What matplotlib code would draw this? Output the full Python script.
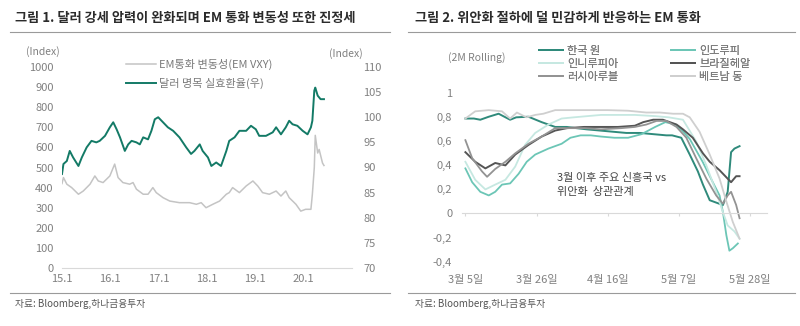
import matplotlib
matplotlib.use("Agg")
import matplotlib.pyplot as plt
from matplotlib.lines import Line2D

plt.rcParams['font.family'] = ['Noto Sans CJK KR', 'DejaVu Sans']
plt.rcParams['axes.unicode_minus'] = False

# ---- 그림 1 data (year fraction, value) ----
vxy_x = [2015.00, 2015.03, 2015.10, 2015.20, 2015.34, 2015.44, 2015.58, 2015.68, 2015.75, 2015.85,
         2015.99, 2016.09, 2016.16, 2016.26, 2016.40, 2016.47, 2016.54, 2016.68, 2016.78, 2016.88,
         2016.95, 2017.09, 2017.23, 2017.43, 2017.64, 2017.78, 2017.88, 2017.98, 2018.12, 2018.26,
         2018.40, 2018.46, 2018.53, 2018.67, 2018.81, 2018.95, 2019.05, 2019.15, 2019.29, 2019.43,
         2019.53, 2019.63, 2019.70, 2019.84, 2019.94, 2020.04, 2020.15, 2020.18, 2020.22, 2020.24,
         2020.29, 2020.32, 2020.39, 2020.42]
vxy_y = [420, 450, 417, 400, 367, 383, 417, 458, 433, 425,
         458, 517, 450, 425, 417, 425, 392, 367, 367, 400,
         375, 350, 333, 325, 325, 317, 325, 300, 317, 333,
         367, 375, 400, 375, 408, 433, 408, 375, 367, 383,
         358, 383, 350, 317, 283, 292, 292, 367, 500, 660,
         572, 590, 522, 510]

neer_x = [2015.00, 2015.03, 2015.10, 2015.16, 2015.23, 2015.34, 2015.41, 2015.51, 2015.61, 2015.71,
          2015.78, 2015.89, 2015.99, 2016.06, 2016.13, 2016.20, 2016.30, 2016.37, 2016.44, 2016.54,
          2016.61, 2016.68, 2016.78, 2016.85, 2016.92, 2016.99, 2017.09, 2017.19, 2017.30, 2017.43,
          2017.57, 2017.67, 2017.74, 2017.85, 2017.91, 2018.02, 2018.09, 2018.19, 2018.29, 2018.40,
          2018.46, 2018.57, 2018.67, 2018.81, 2018.91, 2019.01, 2019.08, 2019.22, 2019.36, 2019.43,
          2019.53, 2019.63, 2019.70, 2019.77, 2019.87, 2019.98, 2020.08, 2020.15, 2020.18, 2020.22,
          2020.24, 2020.29, 2020.35, 2020.42]
neer_y = [88.7, 90.7, 91.3, 93.3, 92.0, 90.3, 92.0, 94.0, 95.3, 95.0,
          95.3, 96.3, 98.0, 99.0, 97.6, 96.0, 93.3, 94.6, 95.3, 95.0,
          94.6, 96.0, 95.6, 97.3, 99.6, 100.0, 99.0, 98.0, 97.3, 96.0,
          94.0, 92.7, 93.3, 94.6, 93.3, 92.0, 90.3, 91.0, 90.3, 93.3,
          95.3, 96.0, 97.3, 97.3, 98.3, 97.6, 96.3, 96.3, 97.0, 98.0,
          96.6, 98.0, 99.3, 98.6, 98.3, 97.3, 96.6, 98.0, 99.3, 105.3,
          105.9, 104.3, 103.6, 103.6]

year_ticks = [2015, 2016, 2017, 2018, 2019, 2020]
year_labels = ['15.1', '16.1', '17.1', '18.1', '19.1', '20.1']

# ---- 그림 2 data (days since 3월 5일, 2M rolling correlation) ----
krw_d = [0, 2.5, 4.4, 6.9, 9.8, 13.2, 15, 18.6, 22.5, 26.5, 29.9, 32.8, 35.8, 39.7, 43.6, 47.5,
         51.5, 55.4, 59.3, 61, 63.7, 66.2, 68.6, 70.1, 72.1, 75, 76, 77.4, 78.4, 79.4, 80.9]
krw_v = [0.79, 0.79, 0.78, 0.805, 0.83, 0.78, 0.80, 0.805, 0.76, 0.72, 0.72, 0.71, 0.70, 0.69, 0.68, 0.67,
         0.67, 0.66, 0.65, 0.65, 0.63, 0.49, 0.35, 0.24, 0.11, 0.08, 0.07, 0.18, 0.51, 0.54, 0.56]

inr_d = [0, 2, 4.4, 6.9, 8.8, 10.8, 13.2, 15.7, 18.1, 20.6, 24.5, 28.4, 31, 34, 37, 40,
         44, 48, 52, 56, 59, 62, 64, 66.2, 70, 73, 75, 76, 77, 77.9, 78.9, 80.4]
inr_v = [0.375, 0.26, 0.18, 0.15, 0.18, 0.24, 0.25, 0.33, 0.43, 0.49, 0.54, 0.58, 0.63, 0.65, 0.65, 0.64,
         0.63, 0.63, 0.66, 0.72, 0.76, 0.74, 0.69, 0.62, 0.43, 0.26, 0.15, 0.01, -0.18, -0.31, -0.29, -0.25]

idr_d = [0, 2.9, 5.9, 8.8, 11.8, 14.7, 17.6, 20.6, 24.5, 28.4, 32, 36, 40, 44, 50, 56,
         60, 64.2, 68.1, 71.1, 74, 76, 77.4, 79.4, 80.9]
idr_v = [0.43, 0.28, 0.20, 0.24, 0.28, 0.39, 0.57, 0.67, 0.74, 0.79, 0.80, 0.81, 0.82, 0.82, 0.82, 0.81,
         0.80, 0.78, 0.60, 0.40, 0.18, 0.01, -0.10, -0.15, -0.21]

brl_d = [0, 2.9, 5.9, 8.8, 11.8, 14.7, 18.6, 22.5, 26.5, 30, 35, 40, 45, 50, 52.5, 55.4,
         58.3, 60.3, 62.3, 64.2, 67.1, 70.1, 72.1, 75, 78.4, 79.9, 80.9]
brl_v = [0.51, 0.43, 0.375, 0.42, 0.40, 0.49, 0.57, 0.64, 0.69, 0.71, 0.72, 0.72, 0.72, 0.73, 0.76, 0.78,
         0.78, 0.76, 0.74, 0.70, 0.63, 0.50, 0.43, 0.36, 0.26, 0.31, 0.31]

rub_d = [0, 2, 4.9, 6.4, 8.8, 11.8, 14.7, 18.6, 22.5, 26.5, 30, 35, 40, 46, 50, 53.4,
         56.4, 59.3, 62.3, 65.2, 68.1, 71.1, 74, 76, 77.4, 78.4, 79.9, 80.9]
rub_v = [0.61, 0.46, 0.35, 0.305, 0.37, 0.43, 0.50, 0.58, 0.64, 0.71, 0.71, 0.71, 0.70, 0.71, 0.72, 0.74,
         0.77, 0.77, 0.72, 0.63, 0.46, 0.29, 0.15, 0.08, 0.15, 0.18, 0.07, -0.04]

vnd_d = [0, 2.9, 6.9, 10.8, 13.2, 15.2, 18, 20.6, 23, 26.5, 30, 36, 42, 48, 53.4, 57.4,
         61.3, 64.2, 66.2, 69.1, 72.1, 75, 77, 78.9, 80.9]
vnd_v = [0.79, 0.85, 0.86, 0.85, 0.79, 0.84, 0.80, 0.82, 0.83, 0.86, 0.86, 0.86, 0.86, 0.855, 0.84, 0.84,
         0.83, 0.83, 0.80, 0.68, 0.49, 0.29, 0.10, -0.07, -0.21]

day_ticks = [0, 21, 42, 63, 84]
day_labels = ['3월 5일', '3월 26일', '4월 16일', '5월 7일', '5월 28일']
corr_ticks = [-0.4, -0.2, 0, 0.2, 0.4, 0.6, 0.8, 1.0]
corr_labels = ['-0,4', '-0,2', '0', '0,2', '0,4', '0,6', '0,8', '1']

W, H = 800, 326
tick_c = '#808080'
axis_c = '#d9d9d9'

fig = plt.figure(figsize=(8, 3.26), dpi=100)

def fx(px):
    return px / W

def fy(py):
    return 1 - py / H

# titles and separators
fig.text(fx(15), fy(18), '그림 1. 달러 강세 압력이 완화되며 EM 통화 변동성 또한 진정세',
         fontsize=9.5, fontweight='bold', color='#2b2b2b', va='center')
fig.text(fx(415), fy(18), '그림 2. 위안화 절하에 덜 민감하게 반응하는 EM 통화',
         fontsize=9.5, fontweight='bold', color='#2b2b2b', va='center')
for x0, x1 in [(10, 390), (408, 795)]:
    for yy in [32, 293]:
        fig.add_artist(Line2D([fx(x0), fx(x1)], [fy(yy), fy(yy)], color='#9a9a9a', lw=0.8))
fig.text(fx(15), fy(304), '자료: Bloomberg,하나금융투자', fontsize=7, color='#555555', va='center')
fig.text(fx(415), fy(304), '자료: Bloomberg,하나금융투자', fontsize=7, color='#555555', va='center')

# ---- left chart ----
ax1 = fig.add_axes([fx(62), fy(268), fx(352 - 62), (268 - 67) / H])
ax1.plot(vxy_x, vxy_y, color='#c4c4c4', lw=1.1, label='EM통화 변동성(EM VXY)')
ax1.set_xlim(2015, 2021)
ax1.set_ylim(0, 1000)
ax1.set_yticks(range(0, 1001, 100))
ax1.set_xticks(year_ticks)
ax1.set_xticklabels(year_labels)
for s in ['top', 'right', 'left']:
    ax1.spines[s].set_visible(False)
ax1.spines['bottom'].set_color(axis_c)
ax1.tick_params(axis='y', length=0, pad=6, labelsize=8, labelcolor=tick_c)
ax1.tick_params(axis='x', length=0, pad=4, labelsize=8, labelcolor=tick_c)

ax2 = ax1.twinx()
ax2.plot(neer_x, neer_y, color='#137a66', lw=1.4, label='달러 명목 실효환율(우)')
ax2.set_ylim(70, 110)
ax2.set_yticks(range(70, 111, 5))
for s in ['top', 'right', 'left', 'bottom']:
    ax2.spines[s].set_visible(False)
ax2.tick_params(axis='y', length=0, pad=8, labelsize=8, labelcolor=tick_c)

fig.text(fx(43), fy(52), '(Index)', fontsize=7.5, color=tick_c, ha='center', va='center')
fig.text(fx(346), fy(54), '(Index)', fontsize=7.5, color=tick_c, ha='center', va='center')

h1, l1 = ax1.get_legend_handles_labels()
h2, l2 = ax2.get_legend_handles_labels()
fig.legend(h1 + h2, l1 + l2, loc='upper left', bbox_to_anchor=(fx(120), fy(53)),
           bbox_transform=fig.transFigure, frameon=False, fontsize=8, borderpad=0,
           handlelength=2.7, handletextpad=0.3, labelspacing=0.75, labelcolor='#7a7a7a')

# ---- right chart ----
ax3 = fig.add_axes([fx(462), fy(261.5), fx(767 - 462), (261.5 - 93.3) / H])
series = [
    (krw_d, krw_v, '#2f8a7b', '한국 원', 1.4),
    (inr_d, inr_v, '#6cc6b6', '인도루피', 1.3),
    (idr_d, idr_v, '#c6e8e1', '인니루피아', 1.3),
    (brl_d, brl_v, '#555555', '브라질헤알', 1.4),
    (rub_d, rub_v, '#939393', '러시아루블', 1.3),
    (vnd_d, vnd_v, '#cfcfcf', '베트남 동', 1.3),
]
lines = {}
for d, v, c, name, lw in series:
    ln, = ax3.plot(d, v, color=c, lw=lw, label=name)
    lines[name] = ln
ax3.set_xlim(-1, 89)
ax3.set_ylim(-0.4, 1.0)
ax3.set_yticks(corr_ticks)
ax3.set_yticklabels(corr_labels)
ax3.set_xticks(day_ticks)
ax3.set_xticklabels(day_labels)
for s in ['top', 'right', 'left']:
    ax3.spines[s].set_visible(False)
ax3.spines['bottom'].set_position(('data', 0))
ax3.spines['bottom'].set_color(axis_c)
ax3.tick_params(axis='x', length=2.5, color=axis_c, pad=42, labelsize=8, labelcolor=tick_c)
ax3.tick_params(axis='y', length=0, pad=7, labelsize=8, labelcolor=tick_c)

fig.text(fx(477), fy(58), '(2M Rolling)', fontsize=7.5, color=tick_c, ha='center', va='center')

col1 = ['한국 원', '인니루피아', '러시아루블']
col2 = ['인도루피', '브라질헤알', '베트남 동']
for names, x0 in [(col1, 533), (col2, 665)]:
    lg = fig.legend([lines[n] for n in names], names, loc='upper left',
                    bbox_to_anchor=(fx(x0), fy(40)), bbox_transform=fig.transFigure,
                    frameon=False, fontsize=8, borderpad=0, handlelength=2.2,
                    handletextpad=0.4, labelspacing=0.3, labelcolor='#7a7a7a')
    fig.add_artist(lg)

ax3.text(fx(557 - 462) / fx(767 - 462), (261.5 - 185) / (261.5 - 93.3),
         '3월 이후 주요 신흥국 vs\n위안화  상관관계', transform=ax3.transAxes,
         fontsize=8, color='#444444', va='center', ha='left', linespacing=1.5)

fig.savefig('out.png', dpi=100)
